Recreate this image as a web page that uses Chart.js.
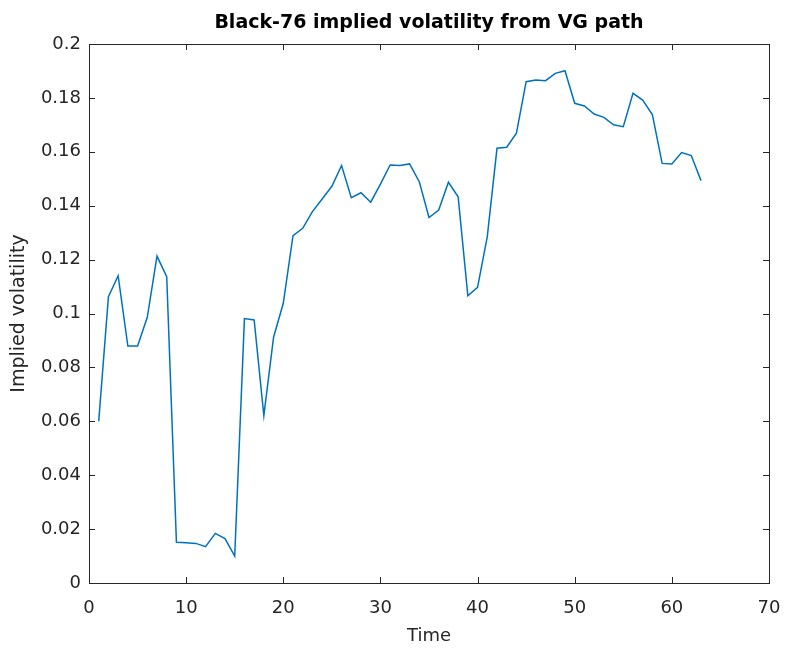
<!DOCTYPE html>
<html>
<head>
<meta charset="utf-8">
<script src="https://cdn.jsdelivr.net/npm/chart.js@4"></script>
<style>
  html, body { margin: 0; padding: 0; background: #fff; }
  #wrap { width: 787px; height: 648px; }
</style>
</head>
<body>
<div id="wrap"><canvas id="c" width="787" height="648"></canvas></div>
<script>
const timeValues = [1,2,3,4,5,6,7,8,9,10,11,12,13,14,15,16,17,18,19,20,21,22,23,24,25,26,27,28,29,30,31,32,33,34,35,36,37,38,39,40,41,42,43,44,45,46,47,48,49,50,51,52,53,54,55,56,57,58,59,60,61,62,63];
const impliedVol = [0.0600,0.1062,0.1140,0.0879,0.0879,0.0986,0.1213,0.1137,0.0151,0.0149,0.0147,0.0135,0.0184,0.0165,0.0100,0.0981,0.0976,0.0621,0.0912,0.1038,0.1289,0.1316,0.1378,0.1425,0.1472,0.1549,0.1430,0.1448,0.1413,0.1480,0.1551,0.1549,0.1555,0.1489,0.1356,0.1384,0.1487,0.1433,0.1066,0.1097,0.1285,0.1613,0.1617,0.1669,0.1860,0.1866,0.1864,0.1891,0.1901,0.1780,0.1770,0.1740,0.1728,0.1700,0.1693,0.1817,0.1792,0.1737,0.1557,0.1555,0.1597,0.1586,0.1493];
const xTicks = [0,10,20,30,40,50,60,70];
const yTicks = [0,0.02,0.04,0.06,0.08,0.1,0.12,0.14,0.16,0.18,0.2];
const titleText = 'Black-76 implied volatility from VG path';
const xTitle = 'Time';
const yTitle = 'Implied volatility';

const points = timeValues.map((t, i) => ({ x: t, y: impliedVol[i] }));
const axisColor = '#262626';
const FONT = 'DejaVu Sans';

const boxPlugin = {
  id: 'matlabBox',
  afterDraw(chart) {
    const { ctx, chartArea: a, scales } = chart;
    ctx.save();
    ctx.strokeStyle = axisColor;
    ctx.lineWidth = 1;
    ctx.strokeRect(a.left + 0.5, a.top + 0.5, a.right - a.left, a.bottom - a.top);
    const len = 6;
    ctx.beginPath();
    scales.x.ticks.forEach((t, i) => {
      const px = Math.round(scales.x.getPixelForTick(i)) + 0.5;
      ctx.moveTo(px, a.bottom); ctx.lineTo(px, a.bottom - len);
      ctx.moveTo(px, a.top); ctx.lineTo(px, a.top + len);
    });
    scales.y.ticks.forEach((t, i) => {
      const py = Math.round(scales.y.getPixelForTick(i)) + 0.5;
      ctx.moveTo(a.left, py); ctx.lineTo(a.left + len, py);
      ctx.moveTo(a.right, py); ctx.lineTo(a.right - len, py);
    });
    ctx.stroke();
    ctx.restore();
  }
};

new Chart(document.getElementById('c'), {
  type: 'line',
  data: {
    datasets: [{
      data: points,
      borderColor: '#0072BD',
      borderWidth: 1.5,
      pointRadius: 0,
      fill: false,
      tension: 0
    }]
  },
  options: {
    responsive: false,
    animation: false,
    layout: { padding: { top: 0, right: 18, bottom: 0, left: 0 } },
    plugins: {
      legend: { display: false },
      tooltip: { enabled: false },
      title: {
        display: true,
        fullSize: false,
        text: titleText,
        color: '#000',
        font: { family: FONT, size: 19, weight: 'bold' },
        padding: { top: 12, bottom: 9.2 }
      }
    },
    scales: {
      x: {
        type: 'linear',
        min: 0, max: 70,
        afterBuildTicks(s) { s.ticks = xTicks.map(v => ({ value: v })); },
        afterFit(s) { s.height = 65; s.paddingLeft = 0; s.paddingRight = 0; },
        grid: { display: false, drawTicks: false },
        border: { display: false },
        ticks: { color: axisColor, padding: 15, font: { family: FONT, size: 18 }, maxRotation: 0 },
        title: { display: true, text: xTitle, color: axisColor, font: { family: FONT, size: 18 }, padding: { top: 0, bottom: 1 } }
      },
      y: {
        type: 'linear',
        min: 0, max: 0.2,
        afterBuildTicks(s) { s.ticks = yTicks.map(v => ({ value: v })); },
        afterFit(s) { s.width = 89; s.paddingTop = 0; s.paddingBottom = 0; },
        grid: { display: false, drawTicks: false },
        border: { display: false },
        ticks: {
          color: axisColor, padding: 8,
          font: { family: FONT, size: 18 },
          callback: v => String(+v.toFixed(2))
        },
        title: { display: true, text: yTitle, color: axisColor, font: { family: FONT, size: 19 }, padding: { top: 8, bottom: 0 } }
      }
    }
  },
  plugins: [boxPlugin]
});
</script>
</body>
</html>
